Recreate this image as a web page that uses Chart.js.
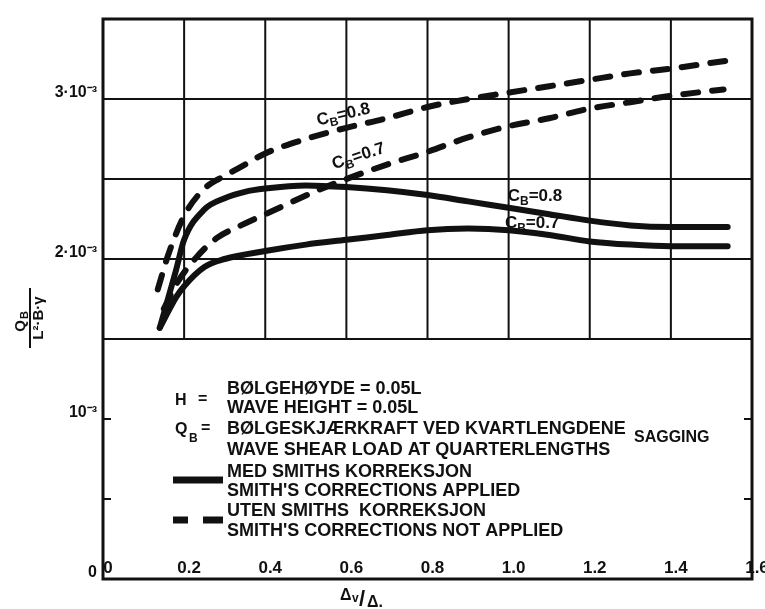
<!DOCTYPE html>
<html>
<head>
<meta charset="utf-8">
<script src="https://cdn.jsdelivr.net/npm/chart.js@4.4.1/dist/chart.umd.min.js"></script>
<style>
  html, body { margin: 0; padding: 0; background: #fff; }
</style>
</head>
<body>
<canvas id="shearChart" width="765" height="609"></canvas>
<script>
// Δv/Δ (x) and Q_B / (L²·B·γ) in units of 10^-3 (y)
const solid08X = [0.14, 0.18, 0.2, 0.25, 0.3, 0.35, 0.4, 0.5, 0.6, 0.7, 0.8, 0.9, 1.0, 1.1, 1.2, 1.3, 1.4, 1.54];
const solid08Y = [1.57, 1.93, 2.12, 2.31, 2.38, 2.42, 2.44, 2.46, 2.45, 2.43, 2.40, 2.36, 2.32, 2.28, 2.24, 2.21, 2.20, 2.20];

const solid07X = [0.14, 0.18, 0.2, 0.25, 0.3, 0.4, 0.5, 0.6, 0.7, 0.8, 0.9, 1.0, 1.1, 1.2, 1.3, 1.4, 1.54];
const solid07Y = [1.57, 1.76, 1.83, 1.95, 2.00, 2.05, 2.09, 2.12, 2.15, 2.18, 2.19, 2.18, 2.15, 2.11, 2.09, 2.08, 2.08];

const dashed08X = [0.135, 0.16, 0.2, 0.25, 0.3, 0.35, 0.4, 0.5, 0.6, 0.7, 0.8, 0.9, 1.0, 1.1, 1.2, 1.3, 1.4, 1.54];
const dashed08Y = [1.81, 2.02, 2.27, 2.44, 2.52, 2.59, 2.66, 2.75, 2.82, 2.88, 2.95, 3.00, 3.04, 3.08, 3.12, 3.16, 3.19, 3.24];

const dashed07X = [0.15, 0.185, 0.23, 0.28, 0.34, 0.4, 0.46, 0.53, 0.6, 0.7, 0.8, 0.9, 1.0, 1.1, 1.2, 1.3, 1.4, 1.53];
const dashed07Y = [1.69, 1.86, 2.01, 2.13, 2.21, 2.28, 2.35, 2.43, 2.50, 2.59, 2.67, 2.76, 2.83, 2.88, 2.94, 2.98, 3.02, 3.06];

// tick labels
const xTickLabels = ["0", "0.2", "0.4", "0.6", "0.8", "1.0", "1.2", "1.4", "1.6"];
const yTickValues = [0, 1, 2, 3];
const yTickLabels = ["0", "10⁻³", "2·10⁻³", "3·10⁻³"];

// curve labels: C_B value, anchor (data units), rotation in degrees
const curveLabelText = ["0.8", "0.7", "0.8", "0.7"];
const curveLabelAt = [[0.592, 2.91], [0.629, 2.65], [1.065, 2.40], [1.058, 2.23]];
const curveLabelRot = [-13, -18, 0, 0];

const FONT = "'Liberation Sans', Arial, sans-serif";
const INK = "#111";

const pts = (xs, ys) => xs.map((x, i) => ({ x: x, y: ys[i] }));

function lineSet(data, dashed) {
  return {
    data: data,
    borderColor: INK,
    borderWidth: 6,
    borderDash: dashed ? [15, 14] : [],
    borderCapStyle: "round",
    pointRadius: 0,
    cubicInterpolationMode: "monotone",
    fill: false,
  };
}

// frame, partial grid, inner ticks, titles and annotation text
const decorations = {
  id: "decorations",
  beforeDatasetsDraw(chart) {
    const { ctx, chartArea: a, scales: { x, y } } = chart;
    ctx.save();
    ctx.strokeStyle = INK;
    ctx.lineWidth = 2;
    // vertical grid only above 1.5·10^-3
    const yCut = y.getPixelForValue(1.5);
    x.ticks.forEach((t) => {
      if (t.value <= 0 || t.value >= 1.6) return;
      const px = x.getPixelForValue(t.value);
      ctx.beginPath();
      ctx.moveTo(px, a.top);
      ctx.lineTo(px, yCut);
      ctx.stroke();
    });
    // small inward ticks in the lower part
    [0.5, 1.0].forEach((v) => {
      const py = y.getPixelForValue(v);
      ctx.beginPath();
      ctx.moveTo(a.left, py); ctx.lineTo(a.left + 8, py);
      ctx.moveTo(a.right, py); ctx.lineTo(a.right - 8, py);
      ctx.stroke();
    });
    ctx.restore();
  },
  afterDatasetsDraw(chart) {
    const { ctx, chartArea: a, scales: { x, y } } = chart;
    ctx.save();
    ctx.strokeStyle = INK;
    ctx.fillStyle = INK;
    ctx.lineWidth = 3;
    ctx.strokeRect(a.left, a.top, a.right - a.left, a.bottom - a.top);

    // C_B labels
    curveLabelText.forEach((val, i) => {
      const px = x.getPixelForValue(curveLabelAt[i][0]);
      const py = y.getPixelForValue(curveLabelAt[i][1]);
      ctx.save();
      ctx.translate(px, py);
      ctx.rotate(curveLabelRot[i] * Math.PI / 180);
      ctx.textBaseline = "alphabetic";
      ctx.textAlign = "left";
      ctx.font = "bold 17px " + FONT;
      const wC = ctx.measureText("C").width;
      const wR = ctx.measureText("=" + val).width;
      ctx.font = "bold 12px " + FONT;
      const wB = ctx.measureText("B").width;
      let cx = -(wC + wB + wR) / 2;
      ctx.font = "bold 17px " + FONT;
      ctx.fillText("C", cx, 6);
      cx += wC;
      ctx.font = "bold 12px " + FONT;
      ctx.fillText("B", cx, 10);
      cx += wB;
      ctx.font = "bold 17px " + FONT;
      ctx.fillText("=" + val, cx, 6);
      ctx.restore();
    });

    // legend block
    ctx.textBaseline = "middle";
    ctx.textAlign = "left";
    ctx.font = "bold 18px " + FONT;
    const lines = [
      ["BØLGEHØYDE = 0.05L", 389],
      ["WAVE HEIGHT = 0.05L", 408],
      ["BØLGESKJÆRKRAFT VED KVARTLENGDENE", 429],
      ["WAVE SHEAR LOAD AT QUARTERLENGTHS", 450],
      ["MED SMITHS KORREKSJON", 472],
      ["SMITH'S CORRECTIONS APPLIED", 491],
      ["UTEN SMITHS  KORREKSJON", 511],
      ["SMITH'S CORRECTIONS NOT APPLIED", 531],
    ];
    lines.forEach(([s, yy]) => ctx.fillText(s, 227, yy));
    ctx.font = "bold 16px " + FONT;
    ctx.fillText("SAGGING", 634, 438);
    ctx.font = "bold 16px " + FONT;
    ctx.fillText("H", 175, 401);
    ctx.fillText("=", 198, 400);
    ctx.fillText("Q", 175, 430);
    ctx.fillText("=", 201, 429);
    ctx.font = "bold 12px " + FONT;
    ctx.fillText("B", 189, 439);

    ctx.lineWidth = 7;
    ctx.lineCap = "butt";
    ctx.beginPath();
    ctx.moveTo(173, 480); ctx.lineTo(223, 480);
    ctx.moveTo(173, 520); ctx.lineTo(188, 520);
    ctx.moveTo(203, 520); ctx.lineTo(223, 520);
    ctx.stroke();

    // x-axis title  Δv/Δ.
    ctx.font = "bold 16px " + FONT;
    ctx.textBaseline = "alphabetic";
    ctx.fillText("Δ", 340, 600);
    ctx.font = "bold 12px " + FONT;
    ctx.fillText("v", 352, 602);
    ctx.font = "bold 22px " + FONT;
    ctx.fillText("/", 359, 606);
    ctx.font = "bold 16px " + FONT;
    ctx.fillText("Δ.", 367, 607);

    // y-axis title  Q_B / (L²·B·γ), rotated
    ctx.save();
    ctx.translate(30, 318);
    ctx.rotate(-Math.PI / 2);
    ctx.textAlign = "center";
    ctx.font = "bold 15px " + FONT;
    ctx.fillText("Q", -8, -5);
    ctx.font = "bold 11px " + FONT;
    ctx.fillText("B", 3, -2);
    ctx.font = "bold 15px " + FONT;
    ctx.fillText("L²·B·γ", 0, 13);
    ctx.lineWidth = 2;
    ctx.beginPath();
    ctx.moveTo(-30, 0); ctx.lineTo(30, 0);
    ctx.stroke();
    ctx.restore();

    ctx.restore();
  },
};

const ctx = document.getElementById("shearChart").getContext("2d");
new Chart(ctx, {
  type: "line",
  data: {
    datasets: [
      lineSet(pts(solid08X, solid08Y), false),
      lineSet(pts(solid07X, solid07Y), false),
      lineSet(pts(dashed08X, dashed08Y), true),
      lineSet(pts(dashed07X, dashed07Y), true),
    ],
  },
  options: {
    responsive: false,
    animation: false,
    layout: { padding: { top: 19, right: 13, bottom: 0, left: 0 } },
    plugins: { legend: { display: false }, tooltip: { enabled: false } },
    scales: {
      x: {
        type: "linear",
        min: 0,
        max: 1.6,
        afterFit: (s) => { s.height = 30; },
        grid: { display: false },
        border: { display: false },
        ticks: {
          stepSize: 0.2,
          mirror: true,
          padding: 0,
          labelOffset: 5,
          maxRotation: 0,
          color: INK,
          font: { family: FONT, size: 17, weight: "bold" },
          callback: (v, i) => xTickLabels[i],
        },
      },
      y: {
        min: 0,
        max: 3.5,
        afterFit: (s) => { s.width = 103; },
        border: { display: false },
        grid: {
          drawTicks: false,
          lineWidth: 2,
          color: (c) => (c.tick && c.tick.value >= 1.5 && c.tick.value < 3.5 ? INK : "rgba(0,0,0,0)"),
        },
        ticks: {
          stepSize: 0.5,
          padding: 6,
          labelOffset: -6,
          color: INK,
          font: { family: FONT, size: 16, weight: "bold" },
          callback: (v) => {
            const k = yTickValues.indexOf(v);
            return k >= 0 ? yTickLabels[k] : "";
          },
        },
      },
    },
  },
  plugins: [decorations],
});
</script>
</body>
</html>
